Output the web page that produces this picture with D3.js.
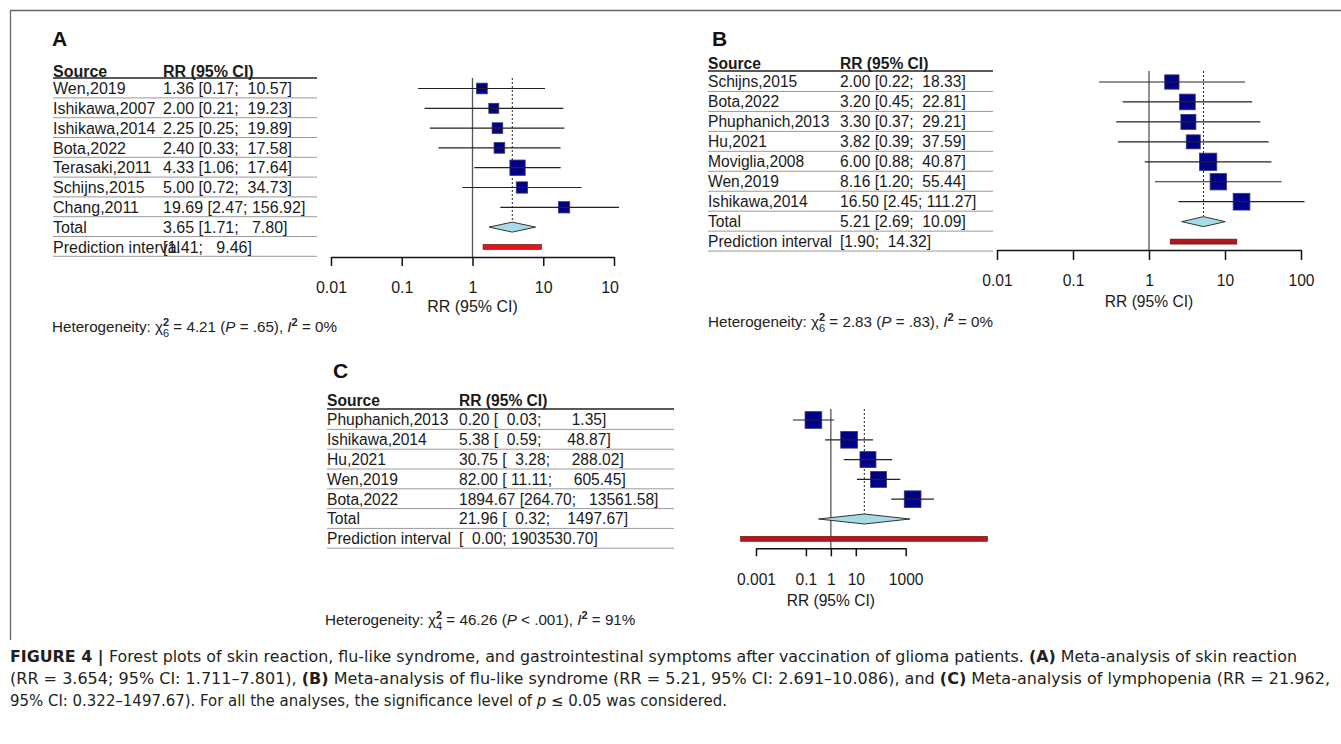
<!DOCTYPE html>
<html>
<head>
<meta charset="utf-8">
<script src="https://cdn.jsdelivr.net/npm/d3@7"></script>
<style>
  body { margin: 0; background: #fff; }
  svg text { font-family: "Liberation Sans", Arial, sans-serif; }
</style>
</head>
<body>
<div id="chart"></div>
<script>
// ---- data: panel A (skin reaction)
const studiesA = ["Wen,2019", "Ishikawa,2007", "Ishikawa,2014", "Bota,2022", "Terasaki,2011", "Schijns,2015", "Chang,2011"]
const rrA = [1.36, 2.00, 2.25, 2.40, 4.33, 5.00, 19.69]
const loA = [0.17, 0.21, 0.25, 0.33, 1.06, 0.72, 2.47]
const hiA = [10.57, 19.23, 19.89, 17.58, 17.64, 34.73, 156.92]
const weightA = [12.2, 10.7, 12.2, 12.2, 25.1, 13.7, 13.7]
const totalA = [3.65, 1.71, 7.80]
const predA = [1.41, 9.46]
const ticksA = [0.01, 0.1, 1, 10, 100]
const tickLabelsA = ["0.01", "0.1", "1", "10", "100"]
const hetA = ["6", "4.21", "= .65", "0%"]

// ---- data: panel B (flu-like syndrome)
const studiesB = ["Schijns,2015", "Bota,2022", "Phuphanich,2013", "Hu,2021", "Moviglia,2008", "Wen,2019", "Ishikawa,2014"]
const rrB = [2.00, 3.20, 3.30, 3.82, 6.00, 8.16, 16.50]
const loB = [0.22, 0.45, 0.37, 0.39, 0.88, 1.20, 2.45]
const hiB = [18.33, 22.81, 29.21, 37.59, 40.87, 55.44, 111.27]
const weightB = [11.9, 14.3, 13.1, 11.4, 17.4, 15.5, 16.3]
const totalB = [5.21, 2.69, 10.09]
const predB = [1.90, 14.32]
const ticksB = [0.01, 0.1, 1, 10, 100]
const tickLabelsB = ["0.01", "0.1", "1", "10", "100"]
const hetB = ["6", "2.83", "= .83", "0%"]

// ---- data: panel C (lymphopenia)
const studiesC = ["Phuphanich,2013", "Ishikawa,2014", "Hu,2021", "Wen,2019", "Bota,2022"]
const rrC = [0.20, 5.38, 30.75, 82.00, 1894.67]
const loC = [0.03, 0.59, 3.28, 11.11, 264.70]
const hiC = [1.35, 48.87, 288.02, 605.45, 13561.58]
const weightC = [20.4, 20.4, 18.7, 18.7, 20.4]
const totalC = [21.96, 0.32, 1497.67]
const predC = [0.00024, 1903530.70]
const ticksC = [0.001, 0.1, 1, 10, 1000]
const tickLabelsC = ["0.001", "0.1", "1", "10", "1000"]
const hetC = ["4", "46.26", "< .001", "91%"]

const captionLines = [
  [["FIGURE 4 | ", "b"], ["Forest plots of skin reaction, flu-like syndrome, and gastrointestinal symptoms after vaccination of glioma patients. "], ["(A)", "b"], [" Meta-analysis of skin reaction"]],
  [["(RR = 3.654; 95% CI: 1.711–7.801), "], ["(B)", "b"], [" Meta-analysis of flu-like syndrome (RR = 5.21, 95% CI: 2.691–10.086), and "], ["(C)", "b"], [" Meta-analysis of lymphopenia (RR = 21.962,"]],
  [["95% CI: 0.322–1497.67). For all the analyses, the significance level of "], ["p", "i"], [" ≤ 0.05 was considered."]]
]

const W = 1341, H = 744
const svg = d3.select("#chart").append("svg").attr("width", W).attr("height", H)

// figure frame
svg.append("path")
  .attr("d", `M${W},10.5 H10.5 V640`)
  .attr("fill", "none").attr("stroke", "#666").attr("stroke-width", 1.3)

svg.append("defs").append("clipPath").attr("id", "clipA")
  .append("rect").attr("x", 0).attr("y", 0).attr("width", 619).attr("height", H)

function heterogeneity(g, x, y, h){
  const t = g.append("text").attr("x", x).attr("y", y).attr("font-size", 15.2).attr("fill", "#222")
  t.append("tspan").text("Heterogeneity: χ")
  t.append("tspan").attr("font-size", 11).attr("font-weight", "bold").attr("dy", -6.5).text("2")
  t.append("tspan").attr("font-size", 11).attr("dx", -6.1).attr("dy", 11).text(h[0])
  t.append("tspan").attr("dy", -4.5).text(" = " + h[1] + " (")
  t.append("tspan").attr("font-style", "italic").text("P")
  t.append("tspan").text(" " + h[2] + "), ")
  t.append("tspan").attr("font-style", "italic").text("I")
  t.append("tspan").attr("font-size", 11).attr("font-weight", "bold").attr("dy", -6.5).text("2")
  t.append("tspan").attr("dy", 6.5).text(" = " + h[3])
}

function panel(d, L){
  const g = svg.append("g")
  const rows = d.studies.concat(["Total", "Prediction interval"])
  const nS = d.studies.length

  // CI text, padded the way the meta package pads it
  const los = d.lo.concat([d.total[1], d.pred[0]]).map(v => v.toFixed(2))
  const his = d.hi.concat([d.total[2], d.pred[1]]).map(v => v.toFixed(2))
  const loLen = d3.max(los, s => s.length), hiLen = d3.max(his, s => s.length)
  const ci = i => "[" + los[i].padStart(loLen) + "; " + his[i].padStart(hiLen) + "]"
  const rrText = rows.map((r, i) => {
    if (i < nS) return d.rr[i].toFixed(2) + " " + ci(i)
    if (i === nS) return d.total[0].toFixed(2) + " " + ci(i)
    return ci(i)
  })

  const y = d3.scaleLinear().domain([0, rows.length - 1]).range([L.row0, L.row0 + L.pitch * (rows.length - 1)])
  const x = d3.scaleLog().domain(d.domain).range(L.xRange)
  const size = d3.scaleSqrt().domain([0, d3.max(d.weight)]).range([0, L.sqMax])

  // panel letter
  g.append("text").attr("x", L.labelX).attr("y", L.labelY)
    .attr("font-size", 21).attr("font-weight", "bold").attr("fill", "#111").text(L.label)

  // table
  const tb = g.append("g").attr("font-size", L.fs).attr("fill", "#1a1a1a")
  tb.append("text").attr("x", L.tableX).attr("y", L.headY).attr("dy", "0.35em").attr("font-weight", "bold").text("Source")
  tb.append("text").attr("x", L.rrX).attr("y", L.headY).attr("dy", "0.35em").attr("font-weight", "bold").text("RR (95% CI)")
  tb.append("line").attr("x1", L.tableX).attr("x2", L.tableRight).attr("y1", L.headLine).attr("y2", L.headLine)
    .attr("stroke", "#222").attr("stroke-width", 1.4)
  tb.selectAll(".rl").data(rows).enter().append("line")
    .attr("x1", L.tableX).attr("x2", L.tableRight)
    .attr("y1", (r, i) => y(i) + L.pitch / 2 - 0.5).attr("y2", (r, i) => y(i) + L.pitch / 2 - 0.5)
    .attr("stroke", "#9a9a9a").attr("stroke-width", 1)
  tb.selectAll(".src").data(rows).enter().append("text")
    .attr("x", L.tableX).attr("y", (r, i) => y(i)).attr("dy", "0.35em").text(r => r)
  tb.selectAll(".rr").data(rrText).enter().append("text")
    .attr("x", L.rrX).attr("y", (r, i) => y(i)).attr("dy", "0.35em")
    .style("white-space", "pre").text(r => r)

  const pg = g.append("g")
  if (L.clip) pg.attr("clip-path", `url(#${L.clip})`)

  // reference line at 1 and dotted line at pooled estimate
  pg.append("line").attr("x1", x(1)).attr("x2", x(1)).attr("y1", L.headLine).attr("y2", L.axisY)
    .attr("stroke", "#555").attr("stroke-width", 1.3)
  pg.append("line").attr("x1", x(d.total[0])).attr("x2", x(d.total[0]))
    .attr("y1", L.headLine).attr("y2", y(nS) - 5)
    .attr("stroke", "#222").attr("stroke-width", 1).attr("stroke-dasharray", "2,2")

  // study squares and CIs
  pg.selectAll(".sq").data(d.rr).enter().append("rect")
    .attr("x", (v, i) => x(v) - size(d.weight[i]) / 2)
    .attr("y", (v, i) => y(i) - size(d.weight[i]) / 2)
    .attr("width", (v, i) => size(d.weight[i]))
    .attr("height", (v, i) => size(d.weight[i]))
    .attr("fill", "#000088").attr("stroke", "#3a3a6a").attr("stroke-width", 0.8)
  pg.selectAll(".ci").data(d.rr).enter().append("line")
    .attr("x1", (v, i) => x(d.lo[i])).attr("x2", (v, i) => x(d.hi[i]))
    .attr("y1", (v, i) => y(i)).attr("y2", (v, i) => y(i))
    .attr("stroke", "#222").attr("stroke-width", 1.2)

  // pooled diamond
  const yd = y(nS)
  pg.append("path")
    .attr("d", `M${x(d.total[1])},${yd} L${x(d.total[0])},${yd - 5} L${x(d.total[2])},${yd} L${x(d.total[0])},${yd + 5} Z`)
    .attr("fill", "#a8dbe8").attr("stroke", "#333").attr("stroke-width", 1)

  // prediction interval bar
  const yp = y(nS + 1)
  pg.append("rect").attr("x", x(d.pred[0])).attr("y", yp - 2.5)
    .attr("width", x(d.pred[1]) - x(d.pred[0])).attr("height", 5)
    .attr("fill", L.predColor).attr("stroke", "#5a1010").attr("stroke-width", 0.6)

  // axis
  const ax = pg.append("g").attr("transform", `translate(0,${L.axisY})`)
    .call(d3.axisBottom(x).tickValues(d.ticks).tickFormat((t, i) => d.tickLabels[i])
      .tickSize(L.tickSize).tickSizeOuter(0).tickPadding(L.tickPad))
  ax.select(".domain").attr("stroke", "#111").attr("stroke-width", 1.5)
  ax.selectAll(".tick line").attr("stroke", "#111").attr("stroke-width", 1.5)
  ax.selectAll(".tick text").attr("font-size", L.fs).attr("fill", "#1a1a1a")
    .attr("font-family", '"Liberation Sans", Arial, sans-serif')

  g.append("text").attr("x", x(1)).attr("y", L.xlabY).attr("text-anchor", "middle")
    .attr("font-size", L.fs).attr("fill", "#1a1a1a").text("RR (95% CI)")

  heterogeneity(g, L.hetX, L.hetY, d.het)
}

panel(
  {studies: studiesA, rr: rrA, lo: loA, hi: hiA, weight: weightA, total: totalA, pred: predA,
   ticks: ticksA, tickLabels: tickLabelsA, het: hetA, domain: [0.01, 100]},
  {label: "A", labelX: 52, labelY: 46, tableX: 53, rrX: 163, tableRight: 317, headY: 71, headLine: 78,
   row0: 88.5, pitch: 19.8, fs: 16, xRange: [331, 614], axisY: 257, tickSize: 9, tickPad: 16,
   xlabY: 312, hetX: 52, hetY: 332, sqMax: 15.3, predColor: "#e5141b", clip: "clipA"}
)

panel(
  {studies: studiesB, rr: rrB, lo: loB, hi: hiB, weight: weightB, total: totalB, pred: predB,
   ticks: ticksB, tickLabels: tickLabelsB, het: hetB, domain: [0.01, 100]},
  {label: "B", labelX: 712, labelY: 45.5, tableX: 708, rrX: 840, tableRight: 993, headY: 63.3, headLine: 71,
   row0: 82, pitch: 19.95, fs: 15.6, xRange: [997, 1301], axisY: 250, tickSize: 10, tickPad: 14.5,
   xlabY: 307, hetX: 708, hetY: 327, sqMax: 17.3, predColor: "#b3161c"}
)

panel(
  {studies: studiesC, rr: rrC, lo: loC, hi: hiC, weight: weightC, total: totalC, pred: predC,
   ticks: ticksC, tickLabels: tickLabelsC, het: hetC, domain: [0.001, 1000]},
  {label: "C", labelX: 333, labelY: 378, tableX: 327, rrX: 459, tableRight: 674, headY: 400.5, headLine: 409,
   row0: 420, pitch: 19.8, fs: 15.6, xRange: [756, 905.7], axisY: 548.3, tickSize: 8, tickPad: 18,
   xlabY: 605.5, hetX: 325, hetY: 625, sqMax: 16.7, predColor: "#b3161c"}
)

// caption
const capY = [662, 684, 706]
const capW = [1287, 1320, 717]
captionLines.forEach((line, li) => {
  const t = svg.append("text").attr("x", 10).attr("y", capY[li])
    .attr("font-size", 15).attr("fill", "#231f20")
    .style("font-family", '"Liberation Sans Narrow", "DejaVu Sans Condensed", sans-serif')
    .style("white-space", "pre")
    .attr("textLength", capW[li]).attr("lengthAdjust", "spacingAndGlyphs")
  line.forEach(seg => {
    const s = t.append("tspan").text(seg[0])
    if (seg[1] === "b") s.attr("font-weight", "bold")
    if (seg[1] === "i") s.attr("font-style", "italic")
  })
})
</script>
</body>
</html>
